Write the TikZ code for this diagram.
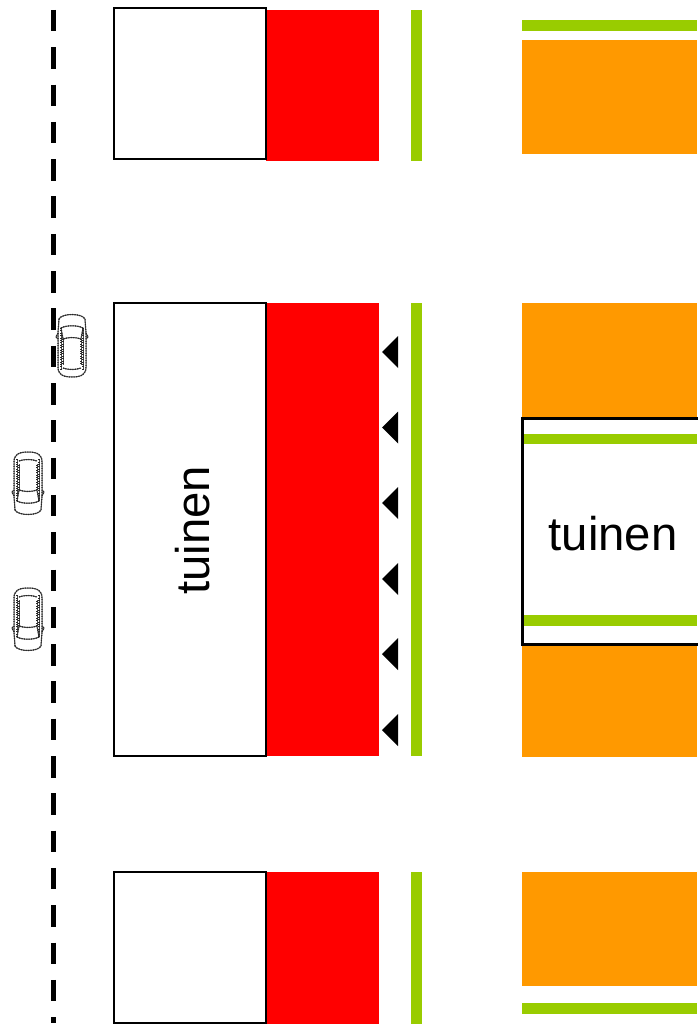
\documentclass[tikz,border=0pt]{standalone}
\usepackage{fontspec}
\setmainfont{Liberation Sans}
\definecolor{tred}{RGB}{255,0,0}
\definecolor{tgreen}{RGB}{153,204,0}
\definecolor{torange}{RGB}{255,153,0}
\tikzset{
  whitebox/.style={draw=black,line width=2.8pt,fill=white},
  redblock/.style={fill=tred,draw=none},
  greenbar/.style={fill=tgreen,draw=none},
  orangeblock/.style={fill=torange,draw=none},
  marker/.style={fill=black,draw=none},
  roadline/.style={draw=black,line width=5pt,dash pattern=on 21.5pt off 15.8pt},
  label/.style={font=\fontsize{47.3}{47.3}\selectfont,text=black,inner sep=0pt},
  carline/.style={draw=black!70,line width=1pt},
  cartex/.style={draw=black!85,line width=1.2pt,dash pattern=on 1pt off 1.4pt},
  car/.pic={
    % origin: car centre; front towards negative y (top); y runs downwards
    \path[fill=white] (-13,-26) .. controls (-10,-32) and (10,-32) .. (13,-26)
      -- (14,22) .. controls (14,29) and (10,32) .. (0,32)
      .. controls (-10,32) and (-14,29) .. (-14,22) -- cycle;
    \foreach \s in {carline,cartex}{
      \draw[\s] (-13,-26) .. controls (-10,-32) and (10,-32) .. (13,-26)
        -- (14,-12) -- (14,22) .. controls (14,29) and (10,32) .. (0,32)
        .. controls (-10,32) and (-14,29) .. (-14,22) -- (-14,-12) -- cycle;
      \draw[\s] (-11,-17) .. controls (-5,-20) and (5,-20) .. (11,-17)
        -- (9,-6) .. controls (3,-8) and (-3,-8) .. (-9,-6) -- cycle;
      \draw[\s] (-9,-6) -- (-9,20);
      \draw[\s] (9,-6) -- (9,20);
      \draw[\s] (-9,23) .. controls (-4,25) and (4,25) .. (9,23);
      \draw[\s] (-11,-17) -- (-11,25);
      \draw[\s] (11,-17) -- (11,25);
      \draw[\s] (-14,-12) -- (-16,-8) -- (-14,-6);
      \draw[\s] (14,-12) -- (16,-8) -- (14,-6);
    }
  },
}
\begin{document}
\begin{tikzpicture}[x=1pt,y=-1pt]
\useasboundingbox (0,0) rectangle (697,1024);
% road centre line
\coordinate (roadtop) at (53.5,10);
\coordinate (roadend) at (53.5,1023);
\draw[roadline] (roadtop) -- (roadend);
% top row
\fill[redblock] (266,10) rectangle (379,161.5);
\fill[greenbar] (411,10) rectangle (422,161);
\fill[greenbar] (522,20) rectangle (697,31);
\fill[orangeblock] (522,40) rectangle (697,154);
\draw[whitebox] (114,8) rectangle (266,159);
% middle row
\fill[redblock] (266,303) rectangle (379,756);
\fill[greenbar] (411,303) rectangle (422,756);
\fill[orangeblock] (522,303) rectangle (697,756.5);
\draw[whitebox] (114,303) rectangle (266,756);
\draw[whitebox] (522.5,418.5) rectangle (699,644.5);
\fill[greenbar] (524,434) rectangle (697,444);
\fill[greenbar] (524,615) rectangle (697,626);
\node[label,rotate=90] (tuinenleft) at (192.5,530.5) {tuinen};
\node[label] (tuinenright) at (613,534) {tuinen};
% bottom row
\fill[redblock] (266,872) rectangle (379,1023.5);
\fill[greenbar] (411,872) rectangle (422,1023.5);
\fill[orangeblock] (522,872) rectangle (697,986);
\fill[greenbar] (522,1003) rectangle (697,1014);
\draw[whitebox] (114,872) rectangle (266,1023);
% markers
\foreach \yy in {352,427.5,503,579,654,730}
  \fill[marker] (382,\yy) -- (398,\yy-16) -- (398,\yy+16) -- cycle;
% cars
\pic at (72,345) {car};
\pic[yscale=-1] at (28,484) {car};
\pic[yscale=-1] at (28,620) {car};
\end{tikzpicture}
\end{document}
